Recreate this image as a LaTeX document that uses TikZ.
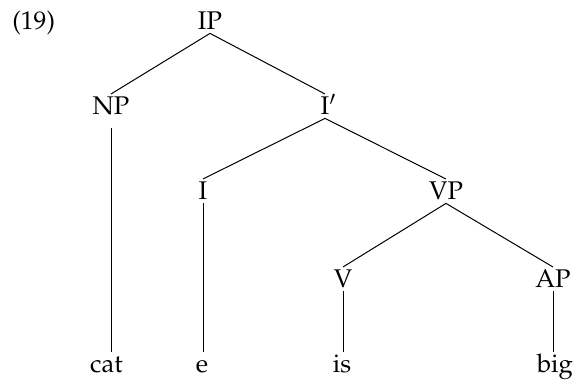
\documentclass[tikz,border=0pt]{standalone}
\usepackage[T1]{fontenc}
\usepackage{mathpazo}
\begin{document}
\begin{tikzpicture}[x=0.5pt, y=-0.5pt,
  lab/.style={font=\fontsize{12.8pt}{15pt}\selectfont, anchor=base,
    inner xsep=0pt, inner ysep=1.5pt, text height=8.8pt, text depth=0pt},
  branch/.style={line width=0.5pt}]
  \useasboundingbox (0,0) rectangle (574,383);

  % example number
  \node[lab, anchor=base west] (num) at (12,30) {(19)};

  % categories
  \node[lab] (IP)  at (210,30)  {IP};
  \node[lab] (NP)  at (111,115) {NP};
  \node[lab] (Ibar) at (325,115) {I\rlap{$'$}};
  \node[lab] (I)   at (203,200) {I};
  \node[lab] (VP)  at (446,200) {VP};
  \node[lab] (V)   at (343,288) {V};
  \node[lab] (AP)  at (553,288) {AP};

  % terminals
  \node[lab] (cat) at (106.5,373) {cat};
  \node[lab] (e)   at (202,373)   {e};
  \node[lab] (is)  at (342,373)   {is};
  \node[lab] (big) at (555,373)   {big};

  % branches
  \draw[branch] (IP.south) -- (NP.north);
  \draw[branch] (IP.south) -- (Ibar.north);
  \draw[branch] (Ibar.south) -- (I.north);
  \draw[branch] (Ibar.south) -- (VP.north);
  \draw[branch] (VP.south) -- (V.north);
  \draw[branch] (VP.south) -- (AP.north);

  % unary branches down to the words
  \draw[branch, shorten <=5pt] (NP.south) -- (NP.south |- cat.north);
  \draw[branch] (I.south)  -- (I.south |- e.north);
  \draw[branch] (V.south)  -- (V.south |- is.north);
  \draw[branch] (AP.south) -- (AP.south |- big.north);
\end{tikzpicture}
\end{document}
